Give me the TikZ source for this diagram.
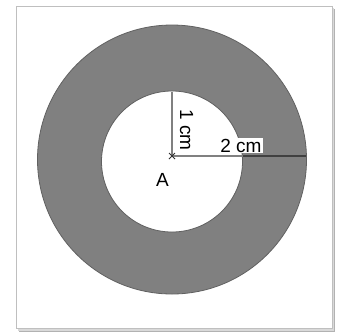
\documentclass[tikz,border=0pt]{standalone}
\usepackage{fontspec}
\setmainfont{Liberation Sans}
\usetikzlibrary{calc}
\begin{document}
\begin{tikzpicture}[x=1pt,y=-1pt,
  lbl/.style={font=\fontsize{19}{21}\selectfont, inner sep=1pt}]
\useasboundingbox (0,0) rectangle (337,333);
\fill[white] (0,0) rectangle (337,333);
% frame with shadow
\fill[black!30] (19,9) rectangle (335,332);
\fill[black!15] (18,8) rectangle (334,331);
\draw[black!25, fill=white, line width=1pt] (16,6) rectangle (332,328);
% annulus
\fill[fill=black!50, even odd rule, draw=black!62, line width=0.8pt]
  (172,159.5) circle[radius=134.5] (172,161.5) circle[radius=70.5];
\coordinate (A) at (172,156);
\coordinate (T) at (172,92);
\coordinate (Ri) at (242.5,156);
\coordinate (R) at (306,156);
% radii
\draw[black!50, line width=1.3pt] (T) -- (A);
\draw[black!50, line width=1.3pt] (A) -- (Ri);
\draw[black!75, line width=1.3pt] (Ri) -- (R);
% centre mark
\draw[black!80, line width=0.9pt] ($(A)+(-3,-3)$) -- ($(A)+(3,3)$) ($(A)+(-3,3)$) -- ($(A)+(3,-3)$);
% labels
\node[lbl, rotate=-90] (l1) at (186.5,130) {1 cm};
\node[lbl, fill=white] (l2) at (241,145.5) {2 cm};
\node[lbl] (la) at (162.5,180) {A};
\end{tikzpicture}
\end{document}
